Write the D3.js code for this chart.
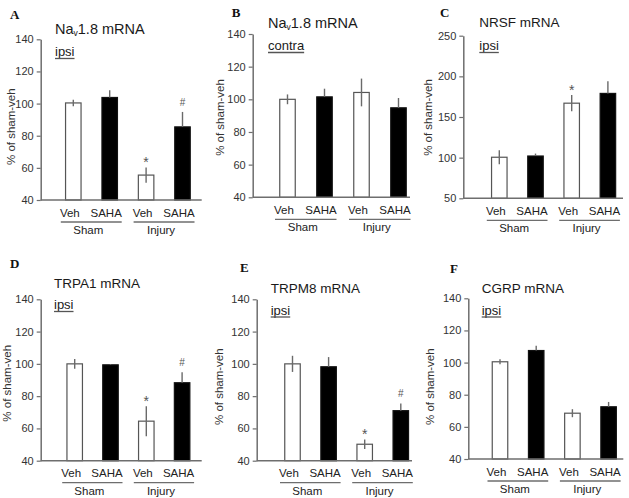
<!DOCTYPE html>
<html>
<head>
<meta charset="utf-8">
<script src="https://cdn.jsdelivr.net/npm/d3@7/dist/d3.min.js"></script>
<style>
  html, body { margin: 0; padding: 0; background: #fff; }
  svg { display: block; font-family: "Liberation Sans", Arial, sans-serif; }
</style>
</head>
<body>
<svg id="chart" width="629" height="498"></svg>
<script>
// ---------- DATA ----------
const categories = ["Veh", "SAHA", "Veh", "SAHA"];
const groups = ["Sham", "Injury"];
const barFill = ["white", "black", "white", "black"];

const navIpsiMean   = [100.4, 103.8, 55.5, 85.5];
const navIpsiErr    = [2, 4.5, 4.8, 9.3];
const navIpsiSig    = ["", "", "*", "#"];

const navContraMean = [100, 101.5, 104.2, 94.8];
const navContraErr  = [3, 5, 8.5, 6];
const navContraSig  = ["", "", "", ""];

const nrsfMean      = [100.5, 102, 167, 179];
const nrsfErr       = [8.5, 3, 10, 15];
const nrsfSig       = ["", "", "*", ""];

const trpa1Mean     = [100, 99.4, 64.5, 88.3];
const trpa1Err      = [3, 0.5, 9.3, 6.5];
const trpa1Sig      = ["", "", "*", "#"];

const trpm8Mean     = [100, 98.2, 50.2, 71];
const trpm8Err      = [5, 6, 3, 4.5];
const trpm8Sig      = ["", "", "*", "#"];

const cgrpMean      = [100.5, 107.5, 68.5, 72.5];
const cgrpErr       = [1.5, 3, 2.5, 3];
const cgrpSig       = ["", "", "", ""];

const ticks40to140  = [40, 60, 80, 100, 120, 140];
const ticks50to250  = [50, 100, 150, 200, 250];
const yLabel = "% of sham-veh";

// ---------- LAYOUT ----------
const panels = [
  { letter: "A", title: ["Na", "v", "1.8 mRNA"], side: "ipsi", mean: navIpsiMean, err: navIpsiErr, sig: navIpsiSig,
    dom: [40, 140], ticks: ticks40to140, ax: 40.7, yT: 39.3, yB: 200, xE: 201.7, off: 32.6, step: 36.4,
    lx: 10, ly: 18.5, tx: 55, ty: 34, sy: 56, ylx: 10.5, yly: 126.7 },
  { letter: "B", title: ["Na", "v", "1.8 mRNA"], side: "contra", mean: navContraMean, err: navContraErr, sig: navContraSig,
    dom: [40, 140], ticks: ticks40to140, ax: 252.7, yT: 34, yB: 197.3, xE: 410, off: 34.8, step: 37,
    lx: 231.7, ly: 16.7, tx: 268, ty: 28, sy: 50, ylx: 220, yly: 117.5 },
  { letter: "C", title: ["NRSF mRNA"], side: "ipsi", mean: nrsfMean, err: nrsfErr, sig: nrsfSig,
    dom: [50, 250], ticks: ticks50to250, ax: 463.3, yT: 35.7, yB: 198.3, xE: 623, off: 36, step: 36.2,
    lx: 440, ly: 16.7, tx: 479.3, ty: 26.7, sy: 50, ylx: 428, yly: 117.5 },
  { letter: "D", title: ["TRPA1 mRNA"], side: "ipsi", mean: trpa1Mean, err: trpa1Err, sig: trpa1Sig,
    dom: [40, 140], ticks: ticks40to140, ax: 40.7, yT: 299.3, yB: 460.7, xE: 201.7, off: 34, step: 35.8,
    lx: 10, ly: 268.3, tx: 54, ty: 288, sy: 309, ylx: 7, yly: 383.3 },
  { letter: "E", title: ["TRPM8 mRNA"], side: "ipsi", mean: trpm8Mean, err: trpm8Err, sig: trpm8Sig,
    dom: [40, 140], ticks: ticks40to140, ax: 256.7, yT: 299.3, yB: 460.7, xE: 412, off: 35.8, step: 36.1,
    lx: 240, ly: 271.7, tx: 270.7, ty: 292.7, sy: 314.5, ylx: 219, yly: 386.7 },
  { letter: "F", title: ["CGRP mRNA"], side: "ipsi", mean: cgrpMean, err: cgrpErr, sig: cgrpSig,
    dom: [40, 140], ticks: ticks40to140, ax: 468.3, yT: 298.3, yB: 459, xE: 623.3, off: 31.7, step: 36.2,
    lx: 450, ly: 273, tx: 481.7, ty: 293, sy: 314.5, ylx: 430, yly: 386.7 }
];

const svg = d3.select("#chart");
const axisColor = "#6e6e6e";
const barW = 15.5;

panels.forEach(p => {
  const g = svg.append("g");
  const idx = d3.range(categories.length);
  const x = d3.scalePoint().domain(idx).range([p.ax + p.off, p.ax + p.off + 3 * p.step]);
  const y = d3.scaleLinear().domain(p.dom).range([p.yB, p.yT]);

  // panel letter
  g.append("text").attr("x", p.lx).attr("y", p.ly)
    .attr("font-family", "'Liberation Serif', 'Times New Roman', serif")
    .attr("font-weight", "bold").attr("font-size", 13).attr("fill", "#111").text(p.letter);

  // title
  const t = g.append("text").attr("x", p.tx).attr("y", p.ty).attr("fill", "#1a1a1a");
  if (p.title.length === 3) {
    t.attr("font-size", 14.5);
    t.append("tspan").text(p.title[0]);
    t.append("tspan").attr("font-size", 8.5).attr("dy", 1.5).text(p.title[1]);
    t.append("tspan").attr("dy", -1.5).text(p.title[2]);
  } else {
    t.attr("font-size", 13.5).text(p.title[0]);
  }

  // side label with underline
  const s = g.append("text").attr("x", p.tx).attr("y", p.sy).attr("font-size", 13).attr("fill", "#1a1a1a").text(p.side);
  const sw = s.node().getComputedTextLength();
  g.append("line").attr("x1", p.tx).attr("x2", p.tx + sw)
    .attr("y1", p.sy + 2.5).attr("y2", p.sy + 2.5).attr("stroke", "#555").attr("stroke-width", 1.3);

  // y axis
  const yAxis = d3.axisLeft(y).tickValues(p.ticks).tickSize(4).tickSizeOuter(0).tickPadding(3);
  const ya = g.append("g").attr("transform", `translate(${p.ax},0)`).call(yAxis);
  ya.select(".domain").attr("stroke", axisColor).attr("stroke-width", 1.5);
  ya.selectAll(".tick line").attr("stroke", axisColor).attr("stroke-width", 1.2);
  ya.selectAll(".tick text").attr("font-size", 11).attr("fill", "#333")
    .attr("font-family", "'Liberation Sans', Arial, sans-serif");

  // y axis label
  g.append("text").attr("transform", `translate(${p.ylx},${p.yly}) rotate(-90)`)
    .attr("text-anchor", "middle").attr("dominant-baseline", "central")
    .attr("font-size", 11.5).attr("fill", "#333").text(yLabel);

  // bars
  g.selectAll("rect.bar").data(idx).enter().append("rect")
    .attr("x", i => x(i) - barW / 2)
    .attr("y", i => y(p.mean[i]))
    .attr("width", barW)
    .attr("height", i => y(p.dom[0]) - y(p.mean[i]))
    .attr("fill", i => barFill[i])
    .attr("stroke", i => barFill[i] === "black" ? "#111" : "#555")
    .attr("stroke-width", 1.2);

  // error bars
  g.selectAll("line.err").data(idx).enter().append("line")
    .attr("x1", i => x(i)).attr("x2", i => x(i))
    .attr("y1", i => y(p.mean[i] + p.err[i]))
    .attr("y2", i => barFill[i] === "black" ? y(p.mean[i]) : y(p.mean[i] - p.err[i]))
    .attr("stroke", "#6a6a6a").attr("stroke-width", 1.4);

  // significance marks
  g.selectAll("text.sig").data(idx.filter(i => p.sig[i] !== "")).enter().append("text")
    .attr("x", i => x(i)).attr("text-anchor", "middle")
    .attr("y", i => y(p.mean[i] + p.err[i]) - (p.sig[i] === "*" ? 0 : 6))
    .attr("font-size", i => p.sig[i] === "*" ? 14 : 10)
    .attr("fill", "#555").text(i => p.sig[i]);

  // x axis line
  g.append("line").attr("x1", p.ax).attr("x2", p.xE).attr("y1", p.yB).attr("y2", p.yB)
    .attr("stroke", axisColor).attr("stroke-width", 1.5);

  // category labels
  g.selectAll("text.cat").data(idx).enter().append("text")
    .attr("x", i => x(i) - 3.5).attr("y", p.yB + 16.5)
    .attr("text-anchor", "middle").attr("font-size", 11.5).attr("fill", "#222")
    .text(i => categories[i]);

  // group underline + label
  groups.forEach((gr, k) => {
    const a = 2 * k, b = 2 * k + 1;
    const x1 = x(a) - 12.5, x2 = x(b) + 12;
    g.append("line").attr("x1", x1).attr("x2", x2).attr("y1", p.yB + 22).attr("y2", p.yB + 22)
      .attr("stroke", axisColor).attr("stroke-width", 1.3);
    g.append("text").attr("x", (x1 + x2) / 2 - 3).attr("y", p.yB + 34)
      .attr("text-anchor", "middle").attr("font-size", 11.5).attr("fill", "#222").text(gr);
  });
});
</script>
</body>
</html>
